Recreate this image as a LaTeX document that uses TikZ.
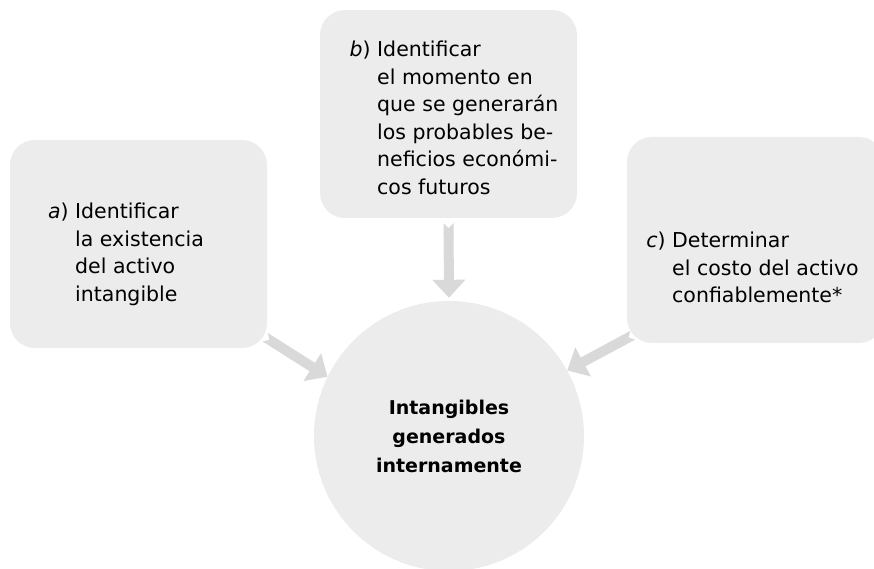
\documentclass[tikz,border=0pt]{standalone}
\usepackage{fontspec}
\setmainfont{DejaVu Sans}
\usetikzlibrary{arrows.meta,backgrounds}
\definecolor{boxgray}{HTML}{ECECEC}
\definecolor{arrgray}{HTML}{D9D9D9}
\begin{document}
\begin{tikzpicture}[x=1pt,y=1pt,
  box/.style={fill=boxgray, draw=none, rounded corners=25pt, minimum width=257pt, inner sep=0pt},
  txt/.style={align=left, inner sep=0pt, anchor=north west, font=\fontsize{20.5}{27.5}\selectfont},
  ctxt/.style={align=center, font=\fontsize{19}{29}\selectfont\bfseries},
  arr/.style={draw=arrgray, line width=10pt, arrows={Triangle Cap[reversed]-{Triangle[width=32pt,length=18pt]}}},
]
\useasboundingbox (0,0) rectangle (874,569);
\node[box, minimum height=208pt] (a) at (138.5,325) {};
\node[box, minimum height=208pt] (b) at (448.5,455) {};
\node[box, minimum height=206pt] (c) at (755.5,329) {};
\node[circle, fill=boxgray, draw=none, minimum size=270pt, inner sep=0pt, ctxt] (circ) at (449,133)
  {Intangibles\\generados\\internamente};
\node[txt] (at) at (75,366) {\llap{\textit{a}) }Identificar\\la existencia\\del activo\\intangible};
\node[txt] (bt) at (377,528) {\llap{\textit{b}) }Identificar\\el momento en\\que se generarán\\los probables be-\\neficios económi-\\cos futuros};
\node[txt] (ct) at (672,337) {\llap{\textit{c}) }Determinar\\el costo del activo\\confiablemente*};
\begin{pgfonlayer}{background}
\draw[arr, shorten <=5pt, shorten >=3pt] (b.south) -- (circ.north);
\draw[arr] ([shift={(-2,11)}]a.south east) -- (circ.154);
\draw[arr] ([shift={(6,8)}]c.south west) -- (circ.29);
\end{pgfonlayer}
\end{tikzpicture}
\end{document}
